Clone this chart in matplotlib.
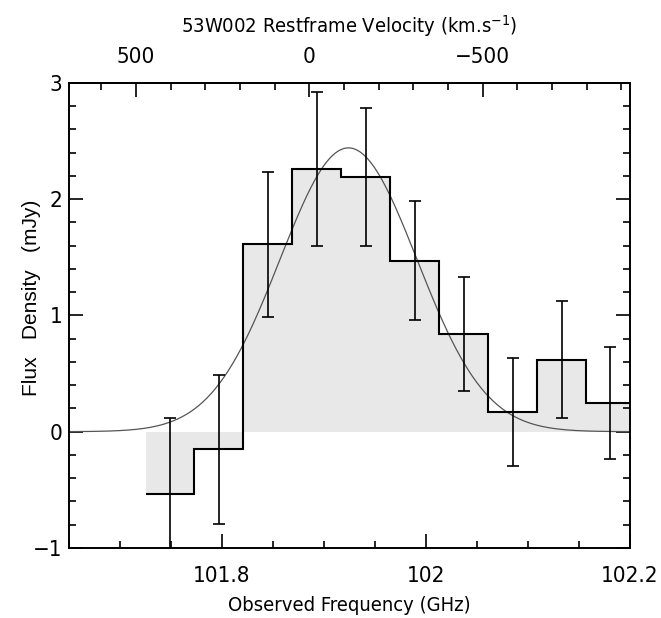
import numpy as np
import matplotlib
matplotlib.use("Agg")
import matplotlib.pyplot as plt
from matplotlib.ticker import MultipleLocator, FixedLocator, FuncFormatter

plt.rcParams['font.family'] = ['DejaVu Sans']
plt.rcParams['font.stretch'] = 'condensed'

# channel centres (GHz), flux (mJy) and 1-sigma errors
freq = [101.749, 101.797, 101.845, 101.893, 101.941, 101.989, 102.037, 102.085, 102.133, 102.180]
flux = [-0.54, -0.15, 1.61, 2.26, 2.19, 1.47, 0.84, 0.17, 0.62, 0.245]
err = [0.66, 0.64, 0.62, 0.66, 0.59, 0.51, 0.49, 0.465, 0.50, 0.48]

# gaussian fit
g_amp = 2.44
g_cen = 101.924
g_sig = 0.0672

# top axis
f0 = 101.8856          # zero velocity frequency
c_kms = 299792.458
vel_ticks = [500, 0, -500]

freq = np.array(freq)
half = (freq[1] - freq[0]) / 2
edges = np.concatenate([[freq[0] - half], (freq[1:] + freq[:-1]) / 2, [freq[-1] + half]])

fig = plt.figure(figsize=(6.61, 6.18), dpi=100)
ax = fig.add_axes([0.1044, 0.1133, 0.8487, 0.7528])

ax.stairs(flux, edges, baseline=0, fill=True, color='#e8e8e8', lw=0, zorder=1)
ax.stairs(flux, edges, baseline=None, color='black', lw=1.5, zorder=3)
ax.errorbar(freq, flux, yerr=err, fmt='none', ecolor='black', elinewidth=1.2,
            capsize=4, capthick=1.2, zorder=4)

xs = np.linspace(101.65, 102.2, 400)
ax.plot(xs, g_amp * np.exp(-(xs - g_cen) ** 2 / (2 * g_sig ** 2)), color='#555555', lw=0.9, zorder=2)

ax.set_xlim(101.65, 102.2)
ax.set_ylim(-1, 3)
ax.xaxis.set_major_locator(MultipleLocator(0.2))
ax.xaxis.set_minor_locator(MultipleLocator(0.05))
ax.yaxis.set_major_locator(MultipleLocator(1))
ax.yaxis.set_minor_locator(MultipleLocator(0.2))
ax.xaxis.set_major_formatter(FuncFormatter(lambda v, p: f"{v:g}"))
ax.tick_params(which='both', direction='in', top=False, right=True, width=1.2, labelsize=16)
ax.tick_params(which='major', length=10)
ax.tick_params(which='minor', length=5)
ax.tick_params(axis='x', pad=13)
ax.tick_params(axis='y', pad=5)
for s in ax.spines.values():
    s.set_linewidth(1.4)

ax.set_xlabel('Observed Frequency (GHz)', fontsize=14.5)
ax.xaxis.set_label_coords(0.5, -0.103)
ax.set_ylabel('Flux   Density   (mJy)', fontsize=15, family='Liberation Sans', stretch='normal')
ax.yaxis.set_label_coords(-0.05, 0.538)


def f2v(f):
    return (f0 - f) / f0 * c_kms


def v2f(v):
    return f0 - v * f0 / c_kms


sec = ax.secondary_xaxis('top', functions=(f2v, v2f))
sec.xaxis.set_major_locator(FixedLocator(vel_ticks))
sec.xaxis.set_minor_locator(MultipleLocator(100))
sec.xaxis.set_major_formatter(FuncFormatter(lambda v, p: f"{v:g}".replace('-', '\u2212')))
sec.tick_params(which='both', direction='in', width=1.2, labelsize=16, pad=11)
sec.tick_params(which='major', length=10)
sec.tick_params(which='minor', length=5)
sec.spines['top'].set_linewidth(1.4)
sec.set_xlabel(r'53W002 Restframe Velocity (km.s$^{-1}$)', fontsize=14.5)
sec.xaxis.set_label_coords(0.5, 1.107, transform=ax.transAxes)

fig.savefig('out.png', dpi=100)
